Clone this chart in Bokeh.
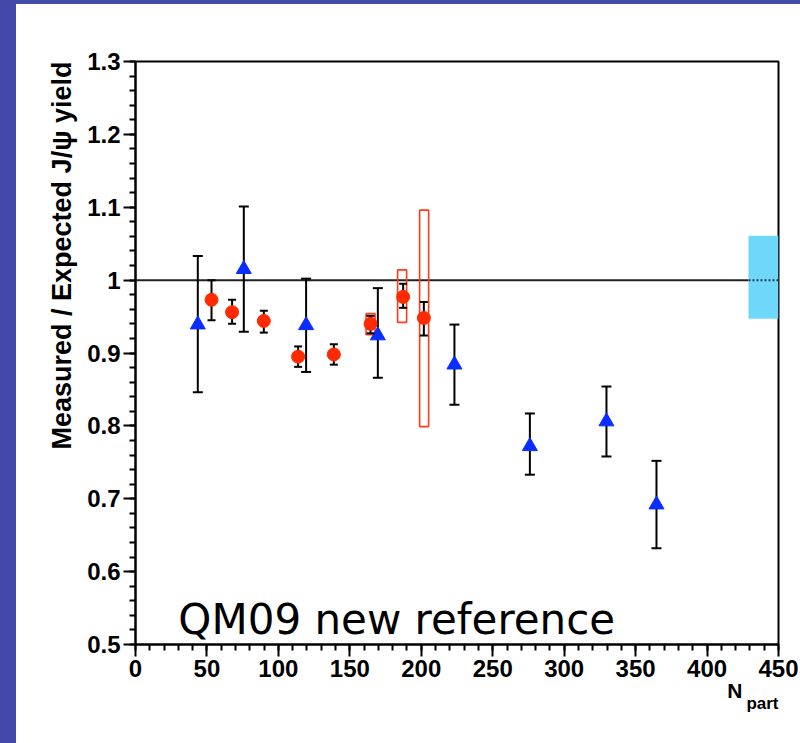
from bokeh.plotting import figure
from bokeh.models import (FixedTicker, CustomJSTickFormatter, Label, Title, Div,
                          ColumnDataSource, Range1d)
from bokeh.layouts import column, row
from bokeh.embed import file_html
from bokeh.resources import INLINE

# ---- data ----
npart_blue = [43.6, 75.8, 119.4, 169.6, 223.2, 276.0, 329.6, 364.6]
ratio_blue = [0.939, 1.015, 0.938, 0.924, 0.884, 0.772, 0.806, 0.692]
blue_hi = [1.033, 1.101, 1.002, 0.989, 0.939, 0.817, 0.854, 0.752]
blue_lo = [0.846, 0.929, 0.874, 0.866, 0.829, 0.733, 0.758, 0.632]

npart_red = [53.2, 67.6, 89.8, 113.8, 138.8, 164.5, 187.3, 201.8]
ratio_red = [0.973, 0.956, 0.944, 0.895, 0.898, 0.940, 0.977, 0.948]
red_hi = [1.000, 0.973, 0.958, 0.909, 0.912, 0.951, 0.995, 0.970]
red_lo = [0.945, 0.940, 0.928, 0.881, 0.884, 0.927, 0.962, 0.924]

sys_npart = [164.5, 186.6, 202.0]
sys_hi = [0.954, 1.014, 1.096]
sys_lo = [0.925, 0.942, 0.799]

global_npart = [429.0, 450.0]
global_band = [0.947, 1.061]
reference_level = 1.0

x_ticks = [0, 50, 100, 150, 200, 250, 300, 350, 400, 450]
y_ticks = [0.5, 0.6, 0.7, 0.8, 0.9, 1.0, 1.1, 1.2, 1.3]
x_minor = list(range(0, 451, 10))
y_minor = [round(0.5 + 0.02 * i, 2) for i in range(41)]

y_title = "Measured / Expected J/\u03c8 yield"
x_title_main = "N"
x_title_sub = "part"
note_text = "QM09 new reference"

SLIDE = "#4448a8"
W, H = 800, 743
LEFT_STRIP, TOP_STRIP = 16, 4
PW, PH = W - LEFT_STRIP, H - TOP_STRIP

# ---- figure ----
p = figure(width=PW, height=PH, output_backend="svg", toolbar_location=None,
           x_range=Range1d(0, 450), y_range=Range1d(0.5, 1.3),
           min_border_left=135 - LEFT_STRIP, min_border_right=22,
           min_border_top=61 - TOP_STRIP, min_border_bottom=99,
           background_fill_color="white", border_fill_color="white", margin=0)
p.grid.visible = False
p.outline_line_color = "black"
p.outline_line_width = 2

for ax in (p.xaxis[0], p.yaxis[0]):
    ax.axis_line_color = "black"
    ax.axis_line_width = 2
    ax.major_tick_line_color = "black"
    ax.major_tick_line_width = 2
    ax.minor_tick_line_color = "black"
    ax.minor_tick_line_width = 2
    ax.major_tick_in = 0
    ax.major_tick_out = 12
    ax.minor_tick_in = 0
    ax.minor_tick_out = 6
    ax.major_label_text_font = "Liberation Sans"
    ax.major_label_text_font_style = "bold"
    ax.major_label_text_font_size = "24px"
    ax.major_label_text_color = "black"
    ax.major_label_standoff = 3

p.xaxis.ticker = FixedTicker(ticks=x_ticks, minor_ticks=x_minor)
p.yaxis.ticker = FixedTicker(ticks=y_ticks, minor_ticks=y_minor)
p.xaxis.formatter = CustomJSTickFormatter(code="return tick.toFixed(0);")
p.yaxis.formatter = CustomJSTickFormatter(
    code="var s = tick.toFixed(1); return s == '1.0' ? '1' : s;")

# reference line at 1 and global uncertainty box
p.segment(x0=[0], y0=[reference_level], x1=[global_npart[0]], y1=[reference_level],
          line_color="#222222", line_width=2)
p.quad(left=[global_npart[0]], right=[global_npart[1]], bottom=[global_band[0]],
       top=[global_band[1]], fill_color="#6fd8fa", line_color=None)
p.segment(x0=[global_npart[0]], y0=[reference_level], x1=[global_npart[1]],
          y1=[reference_level], line_color="#1a3a55", line_width=2, line_dash="2 2")

# systematic boxes (red, open)
sys_src = ColumnDataSource(dict(x=sys_npart,
                                y=[(a + b) / 2 for a, b in zip(sys_lo, sys_hi)],
                                h=[b - a for a, b in zip(sys_lo, sys_hi)]))
p.rect(x="x", y="y", width=6.3, height="h", source=sys_src, fill_color=None,
       line_color="#ff3b1a", line_width=1.6)

# blue error bars + triangles
blue = ColumnDataSource(dict(x=npart_blue, y=ratio_blue, hi=blue_hi, lo=blue_lo))
p.segment(x0="x", y0="lo", x1="x", y1="hi", source=blue, line_color="black", line_width=2)
p.scatter(x="x", y="hi", source=blue, marker="dash", size=10, line_color="black", line_width=2)
p.scatter(x="x", y="lo", source=blue, marker="dash", size=10, line_color="black", line_width=2)
p.scatter(x="x", y="y", source=blue, marker="triangle", size=15,
          fill_color="#0a2dff", line_color="#0a2dff")

# red error bars + circles
red = ColumnDataSource(dict(x=npart_red, y=ratio_red, hi=red_hi, lo=red_lo))
p.segment(x0="x", y0="lo", x1="x", y1="hi", source=red, line_color="black", line_width=2)
p.scatter(x="x", y="hi", source=red, marker="dash", size=8, line_color="black", line_width=2)
p.scatter(x="x", y="lo", source=red, marker="dash", size=8, line_color="black", line_width=2)
p.scatter(x="x", y="y", source=red, marker="circle", size=13,
          fill_color="#ff2a00", line_color="#ff2a00")

# text on the plot
p.add_layout(Label(x=30, y=0.534, text=note_text, text_font="DejaVu Sans",
                   text_font_size="42px", text_color="black",
                   text_baseline="alphabetic", text_align="left"))

# y-axis title, aligned to the top end like ROOT
p.add_layout(Title(text=y_title, align="right", text_font="Liberation Sans",
                   text_font_style="bold", text_font_size="27px",
                   text_color="black", standoff=15), "left")
# x-axis title N_part (main letter + subscript)
p.add_layout(Title(text=x_title_main, align="right", offset=36,
                   text_font="Liberation Sans", text_font_style="bold",
                   text_font_size="21px", text_color="black", standoff=-6), "below")
p.add_layout(Title(text=x_title_sub, align="right", offset=0,
                   text_font="Liberation Sans", text_font_style="bold",
                   text_font_size="17px", text_color="black", standoff=-14), "below")

# slide border strips
top_strip = Div(text="", width=W, height=TOP_STRIP, margin=0,
                styles={"background-color": SLIDE})
left_strip = Div(text="", width=LEFT_STRIP, height=PH, margin=0,
                 styles={"background-color": SLIDE})
page = column(top_strip, row(left_strip, p, spacing=0), spacing=0)

open("out.html", "w").write(file_html(page, INLINE))
